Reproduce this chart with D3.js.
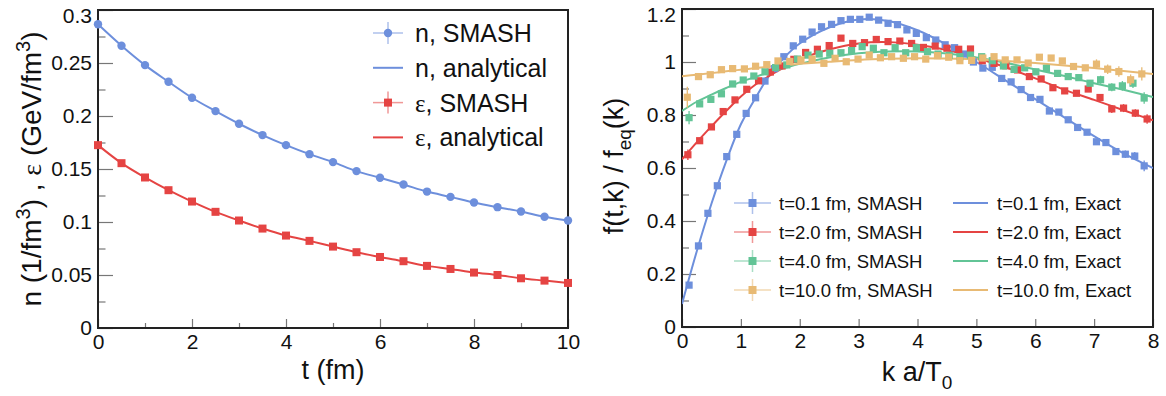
<!DOCTYPE html>
<html>
<head>
<meta charset="utf-8">
<script src="https://cdn.jsdelivr.net/npm/d3@7"></script>
<style>
  body { margin: 0; background: #fff; }
  svg { display: block; font-family: "Liberation Sans", Arial, Helvetica, sans-serif; }
</style>
</head>
<body>
<svg id="chart" width="1166" height="396"></svg>
<script>
// ---- left panel: densities vs time ----
const tFm = [0, 0.5, 1, 1.5, 2, 2.5, 3, 3.5, 4, 4.5, 5, 5.5, 6, 6.5, 7, 7.5, 8, 8.5, 9, 9.5, 10];
const nValues = [0.2865, 0.2663, 0.2480, 0.2323, 0.2172, 0.2046, 0.1927, 0.1820, 0.1725, 0.1640, 0.1565,
  0.1480, 0.1417, 0.1354, 0.1287, 0.1237, 0.1184, 0.1140, 0.1099, 0.1050, 0.1014];
const eValues = [0.1725, 0.1555, 0.1420, 0.1300, 0.1193, 0.1096, 0.1014, 0.0938, 0.0872, 0.0822, 0.0768,
  0.0715, 0.0670, 0.0630, 0.0586, 0.0557, 0.0523, 0.0500, 0.0469, 0.0447, 0.0425];

// ---- right panel: f(t,k)/f_eq(k) ----
const kT01 = [0.12, 0.28, 0.44, 0.60, 0.76, 0.93, 1.09, 1.25, 1.41, 1.57, 1.73, 1.89, 2.05, 2.21, 2.37, 2.54,
  2.70, 2.86, 3.02, 3.18, 3.34, 3.50, 3.66, 3.82, 3.98, 4.15, 4.31, 4.47, 4.63, 4.79, 4.95, 5.11, 5.27, 5.43,
  5.59, 5.76, 5.92, 6.08, 6.24, 6.40, 6.56, 6.72, 6.88, 7.04, 7.20, 7.37, 7.53, 7.69, 7.85];
const smashT01 = [0.158, 0.306, 0.429, 0.533, 0.643, 0.727, 0.806, 0.865, 0.928, 0.975, 1.020, 1.061, 1.086,
  1.113, 1.133, 1.142, 1.156, 1.161, 1.161, 1.169, 1.158, 1.146, 1.141, 1.121, 1.108, 1.092, 1.083, 1.065,
  1.054, 1.030, 1.000, 0.977, 0.980, 0.938, 0.925, 0.896, 0.866, 0.859, 0.815, 0.811, 0.782, 0.753, 0.735,
  0.699, 0.696, 0.662, 0.652, 0.645, 0.608];

const kT2 = [0.1, 0.3, 0.5, 0.7, 0.9, 1.1, 1.3, 1.5, 1.7, 1.9, 2.1, 2.3, 2.5, 2.7, 2.9, 3.1, 3.3, 3.5, 3.7, 3.9,
  4.1, 4.3, 4.5, 4.7, 4.9, 5.1, 5.3, 5.5, 5.7, 5.9, 6.1, 6.3, 6.5, 6.7, 6.9, 7.1, 7.3, 7.5, 7.7, 7.9];
const smashT2 = [0.650, 0.703, 0.755, 0.813, 0.857, 0.897, 0.929, 0.962, 0.985, 1.010, 1.036, 1.048, 1.062,
  1.090, 1.070, 1.073, 1.085, 1.077, 1.079, 1.070, 1.055, 1.060, 1.052, 1.048, 1.049, 1.005, 0.995, 0.986,
  0.970, 0.945, 0.936, 0.903, 0.891, 0.882, 0.898, 0.866, 0.823, 0.826, 0.807, 0.785];

const kT4 = [0.12, 0.30, 0.49, 0.67, 0.86, 1.04, 1.22, 1.41, 1.59, 1.78, 1.96, 2.14, 2.33, 2.51, 2.70, 2.88,
  3.06, 3.25, 3.43, 3.62, 3.80, 3.98, 4.17, 4.35, 4.54, 4.72, 4.90, 5.09, 5.27, 5.46, 5.64, 5.82, 6.01, 6.19,
  6.38, 6.56, 6.74, 6.93, 7.11, 7.30, 7.48, 7.66, 7.85];
const smashT4 = [0.790, 0.842, 0.859, 0.880, 0.917, 0.932, 0.947, 0.963, 0.979, 0.989, 1.011, 1.026, 1.030,
  1.033, 1.035, 1.043, 1.058, 1.052, 1.035, 1.054, 1.035, 1.054, 1.039, 1.030, 1.025, 1.020, 1.026, 1.020,
  1.005, 0.985, 0.972, 0.978, 0.963, 0.976, 0.957, 0.945, 0.941, 0.920, 0.933, 0.905, 0.910, 0.920, 0.864];

const kT10 = [0.09, 0.28, 0.48, 0.67, 0.86, 1.06, 1.25, 1.44, 1.63, 1.83, 2.02, 2.21, 2.41, 2.60, 2.79, 2.99,
  3.18, 3.37, 3.56, 3.76, 3.95, 4.14, 4.34, 4.53, 4.72, 4.92, 5.11, 5.30, 5.49, 5.69, 5.88, 6.07, 6.27, 6.46,
  6.65, 6.85, 7.04, 7.23, 7.42, 7.62, 7.81];
const smashT10 = [0.867, 0.945, 0.952, 0.971, 0.975, 0.974, 0.984, 0.990, 1.004, 1.002, 1.008, 1.011, 0.995,
  1.014, 1.001, 1.011, 1.026, 1.016, 1.020, 1.014, 1.020, 1.011, 1.024, 1.018, 1.005, 1.006, 1.015, 1.020,
  1.008, 1.008, 0.996, 1.018, 1.015, 1.004, 0.983, 0.978, 0.992, 0.973, 0.964, 0.933, 0.955];

// visible error bars: [point index, half-size]
const errT01 = [[44, 0.012], [45, 0.012], [46, 0.014], [47, 0.015], [48, 0.02]];
const errT2 = [[0, 0.02], [36, 0.015], [37, 0.015], [38, 0.015], [39, 0.018]];
const errT4 = [[0, 0.025], [38, 0.015], [39, 0.015], [40, 0.018], [41, 0.018], [42, 0.022]];
const errT10 = [[0, 0.04], [36, 0.018], [37, 0.018], [38, 0.02], [39, 0.02], [40, 0.025]];

const kExact = [0, 0.25, 0.5, 0.75, 1, 1.25, 1.5, 1.75, 2, 2.5, 3, 3.5, 4, 4.5, 5, 5.5, 6, 6.5, 7, 7.5, 8];
const exactT01 = [0.087, 0.285, 0.465, 0.625, 0.765, 0.865, 0.955, 1.02, 1.07, 1.13, 1.16, 1.155, 1.12, 1.065,
  1.0, 0.93, 0.86, 0.79, 0.72, 0.655, 0.60];
const exactT2 = [0.633, 0.697, 0.757, 0.815, 0.87, 0.915, 0.95, 0.982, 1.01, 1.047, 1.07, 1.075, 1.065, 1.045,
  1.015, 0.98, 0.938, 0.895, 0.857, 0.818, 0.78];
const exactT4 = [0.815, 0.85, 0.877, 0.902, 0.925, 0.944, 0.962, 0.978, 0.993, 1.017, 1.033, 1.04, 1.04, 1.032,
  1.017, 0.997, 0.972, 0.947, 0.92, 0.895, 0.868];
const exactT10 = [0.946, 0.952, 0.958, 0.965, 0.971, 0.977, 0.983, 0.988, 0.993, 1.001, 1.008, 1.012, 1.014,
  1.013, 1.01, 1.004, 0.996, 0.987, 0.977, 0.966, 0.955];

const colBlue = '#6d8fdc', colRed = '#e54443', colGreen = '#62c496', colOrange = '#e8ba74';

const svg = d3.select('#chart');

const xL = d3.scaleLinear().domain([0, 10]).range([98, 568]);
const yL = d3.scaleLinear().domain([0, 0.3]).range([328, 10]);
const xR = d3.scaleLinear().domain([0, 8]).range([682, 1153]);
const yR = d3.scaleLinear().domain([0, 1.2]).range([327, 9]);

const fmt = d => String(+d.toFixed(3));

function styleAxis(sel, size) {
    sel.select('.domain').remove();
    sel.selectAll('.tick line').attr('stroke', '#777').attr('stroke-width', 1.2);
    sel.selectAll('.tick text').attr('fill', '#111').attr('font-size', size)
        .attr('font-family', '"Liberation Sans", Arial, Helvetica, sans-serif');
}

function drawAxes(x, y, o) {
    const g = svg.append('g');
    const yb = y.range()[0];
    const xl = x.range()[0];
    g.append('g').attr('transform', `translate(0,${yb})`)
        .call(d3.axisBottom(x).tickValues(o.xMajor).tickSize(-o.xTick).tickPadding(6).tickFormat(fmt))
        .call(s => styleAxis(s, 21));
    if (o.xMinor) {
        g.append('g').attr('transform', `translate(0,${yb})`)
            .call(d3.axisBottom(x).tickValues(o.xMinor).tickSize(-o.xTick / 1.8).tickFormat(''))
            .call(s => styleAxis(s, 21));
    }
    const ya = g.append('g').attr('transform', `translate(${xl},0)`)
        .call(d3.axisLeft(y).tickValues(o.yMajor).tickSize(-o.yTick).tickPadding(6).tickFormat(fmt))
        .call(s => styleAxis(s, 21));
    // keep the topmost label inside the picture, as in the original
    ya.selectAll('.tick text').filter(d => d === o.yMajor[o.yMajor.length - 1]).attr('dy', '0.58em');
    g.append('g').attr('transform', `translate(${xl},0)`)
        .call(d3.axisLeft(y).tickValues(o.yMinor).tickSize(-o.yTick / 2).tickFormat(''))
        .call(s => styleAxis(s, 21));
    const [x0, x1] = x.range();
    const [y0, y1] = y.range();
    g.append('rect')
        .attr('x', x0).attr('y', y1).attr('width', x1 - x0).attr('height', y0 - y1)
        .attr('fill', 'none').attr('stroke', '#222').attr('stroke-width', 2);
}

drawAxes(xL, yL, {
    xMajor: [0, 2, 4, 6, 8, 10], xMinor: [1, 3, 5, 7, 9], xTick: 9,
    yMajor: [0, 0.05, 0.1, 0.15, 0.2, 0.25, 0.3],
    yMinor: [0.025, 0.075, 0.125, 0.175, 0.225, 0.275], yTick: 15
});
drawAxes(xR, yR, {
    xMajor: [0, 1, 2, 3, 4, 5, 6, 7, 8], xMinor: null, xTick: 8,
    yMajor: [0, 0.2, 0.4, 0.6, 0.8, 1, 1.2],
    yMinor: [0.1, 0.3, 0.5, 0.7, 0.9, 1.1], yTick: 14
});

// ---- left panel marks ----
const lineL = (vals) => d3.line().x((d, i) => xL(tFm[i])).y(d => yL(d)).curve(d3.curveMonotoneX)(vals);
const gL = svg.append('g');
gL.append('path').attr('d', lineL(nValues)).attr('fill', 'none').attr('stroke', colBlue).attr('stroke-width', 2);
gL.append('path').attr('d', lineL(eValues)).attr('fill', 'none').attr('stroke', colRed).attr('stroke-width', 2);
gL.selectAll('circle.n').data(nValues).join('circle')
    .attr('cx', (d, i) => xL(tFm[i])).attr('cy', d => yL(d)).attr('r', 4.2).attr('fill', colBlue);
gL.selectAll('rect.e').data(eValues).join('rect')
    .attr('x', (d, i) => xL(tFm[i]) - 4).attr('y', d => yL(d) - 4)
    .attr('width', 8).attr('height', 8).attr('fill', colRed);

// ---- right panel marks ----
svg.append('clipPath').attr('id', 'clipR').append('rect')
    .attr('x', 682).attr('y', 9).attr('width', 471).attr('height', 318);
const gR = svg.append('g').attr('clip-path', 'url(#clipR)');
const lineR = d3.line().x((d, i) => xR(kExact[i])).y(d => yR(d)).curve(d3.curveCatmullRom.alpha(0.5));

const seriesR = [
    {k: kT01, v: smashT01, ex: exactT01, err: errT01, c: colBlue},
    {k: kT2, v: smashT2, ex: exactT2, err: errT2, c: colRed},
    {k: kT4, v: smashT4, ex: exactT4, err: errT4, c: colGreen},
    {k: kT10, v: smashT10, ex: exactT10, err: errT10, c: colOrange}
];
seriesR.forEach(s => {
    gR.append('path').attr('d', lineR(s.ex)).attr('fill', 'none').attr('stroke', s.c).attr('stroke-width', 2);
});
seriesR.forEach(s => {
    gR.append('g').selectAll('line').data(s.err).join('line')
        .attr('x1', d => xR(s.k[d[0]])).attr('x2', d => xR(s.k[d[0]]))
        .attr('y1', d => yR(s.v[d[0]] - d[1])).attr('y2', d => yR(s.v[d[0]] + d[1]))
        .attr('stroke', s.c).attr('stroke-width', 1.3);
    gR.append('g').selectAll('rect').data(s.v).join('rect')
        .attr('x', (d, i) => xR(s.k[i]) - 3.6).attr('y', d => yR(d) - 3.6)
        .attr('width', 7.2).attr('height', 7.2).attr('fill', s.c);
});

// ---- axis titles ----
const serif = '"Liberation Serif", "DejaVu Serif", Times, serif';
svg.append('text').attr('x', 333).attr('y', 379).attr('text-anchor', 'middle')
    .attr('font-size', 27).attr('fill', '#111').text('t (fm)');

const kx = svg.append('text').attr('x', 917).attr('y', 381).attr('text-anchor', 'middle')
    .attr('font-size', 27).attr('fill', '#111');
kx.append('tspan').text('k a/T');
kx.append('tspan').attr('font-size', 19).attr('dy', 8).text('0');

const ly = svg.append('text').attr('transform', 'translate(41,169) rotate(-90)').attr('text-anchor', 'middle')
    .attr('font-size', 28).attr('fill', '#111');
ly.append('tspan').text('n (1/fm');
ly.append('tspan').attr('font-size', 20).attr('dy', -11).text('3');
ly.append('tspan').attr('dy', 11).text(')  ,  ');
ly.append('tspan').attr('font-family', serif).text('ε');
ly.append('tspan').text(' (GeV/fm');
ly.append('tspan').attr('font-size', 20).attr('dy', -11).text('3');
ly.append('tspan').attr('dy', 11).text(')');

const ry = svg.append('text').attr('transform', 'translate(623,166) rotate(-90)').attr('text-anchor', 'middle')
    .attr('font-size', 27).attr('fill', '#111');
ry.append('tspan').text('f(t,k) / f');
ry.append('tspan').attr('font-size', 19).attr('dy', 8).text('eq');
ry.append('tspan').attr('dy', -8).text('(k)');

// ---- legends ----
function legendMarker(g, x, y, c, shape, half) {
    g.append('line').attr('x1', x - half).attr('x2', x + half).attr('y1', y).attr('y2', y)
        .attr('stroke', c).attr('stroke-width', 1.5).attr('opacity', 0.55);
    g.append('line').attr('x1', x).attr('x2', x).attr('y1', y - 11).attr('y2', y + 11)
        .attr('stroke', c).attr('stroke-width', 1.5).attr('opacity', 0.55);
    if (shape === 'circle') g.append('circle').attr('cx', x).attr('cy', y).attr('r', 4.2).attr('fill', c);
    else g.append('rect').attr('x', x - 4).attr('y', y - 4).attr('width', 8).attr('height', 8).attr('fill', c);
}
function legendLine(g, x0, x1, y, c) {
    g.append('line').attr('x1', x0).attr('x2', x1).attr('y1', y).attr('y2', y)
        .attr('stroke', c).attr('stroke-width', 2);
}

const legL = svg.append('g');
const legLRows = [
    {label: ['n, SMASH'], c: colBlue, type: 'circle'},
    {label: ['n, analytical'], c: colBlue, type: 'line'},
    {label: ['ε', ', SMASH'], c: colRed, type: 'rect'},
    {label: ['ε', ', analytical'], c: colRed, type: 'line'}
];
legLRows.forEach((r, i) => {
    const y = 33 + 34.8 * i;
    if (r.type === 'line') legendLine(legL, 373, 403, y, r.c);
    else legendMarker(legL, 388, y, r.c, r.type, 15);
    const t = legL.append('text').attr('x', 415).attr('y', y + 9).attr('font-size', 25).attr('fill', '#111');
    r.label.forEach(s => {
        const sp = t.append('tspan').text(s);
        if (s === 'ε') sp.attr('font-family', serif);
    });
});

const legR = svg.append('g');
const legRRows = [
    {t: 't=0.1 fm', c: colBlue},
    {t: 't=2.0 fm', c: colRed},
    {t: 't=4.0 fm', c: colGreen},
    {t: 't=10.0 fm', c: colOrange}
];
legRRows.forEach((r, i) => {
    const y = 203 + 29 * i;
    legendMarker(legR, 752.5, y, r.c, 'rect', 18.5);
    legR.append('text').attr('x', 779).attr('y', y + 6.5).attr('font-size', 18.5).attr('fill', '#111')
        .text(r.t + ', SMASH');
    legendLine(legR, 953, 988, y, r.c);
    legR.append('text').attr('x', 997).attr('y', y + 6.5).attr('font-size', 18.5).attr('fill', '#111')
        .text(r.t + ', Exact');
});
</script>
</body>
</html>
